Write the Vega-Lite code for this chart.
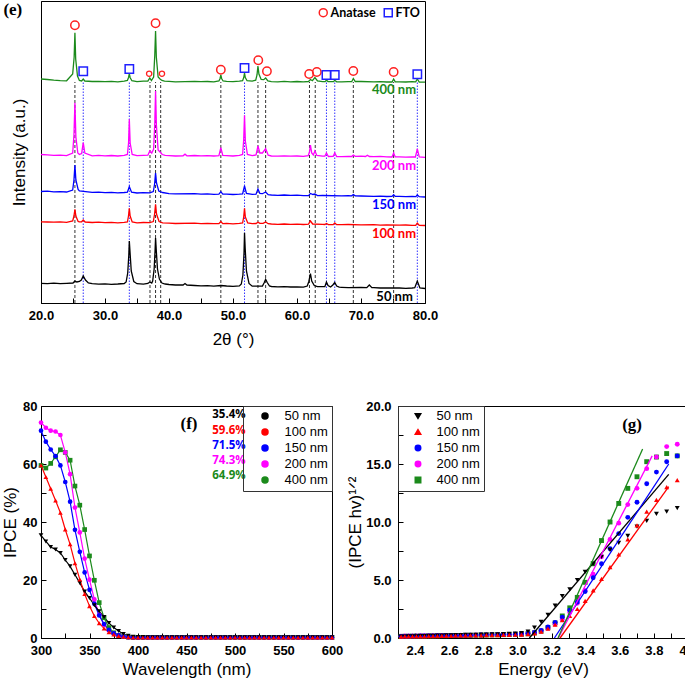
{
"$schema":"https://vega.github.io/schema/vega-lite/v6.json",
"padding":{"left":1,"top":0,"right":0,"bottom":0},
"background":"white",
"config":{
 "font":"Liberation Sans",
 "view":{"stroke":"#000000","strokeWidth":1},
 "axis":{"domainColor":"#000000","tickColor":"#000000","labelFont":"Liberation Sans","labelFontWeight":"bold","labelFontSize":13,"labelColor":"#000000","titleFont":"Liberation Sans","titleFontWeight":"normal","titleFontSize":17,"titleColor":"#000000","grid":false,"tickSize":-5,"labelFlush":false,"labelOverlap":false},
 "legend":{"labelColor":"#000000"}
},
"datasets":{
"ana":[{"t":25.3},{"t":37.03},{"t":37.9},{"t":38.7},{"t":48.1},{"t":53.9},{"t":55.1},{"t":61.95},{"t":62.85},{"t":68.8},{"t":75.1}],
"fto":[{"t":26.6},{"t":33.8},{"t":51.8},{"t":64.6},{"t":65.9},{"t":78.8}],
"xmk":[{"type":"Anatase","t":25.3,"I":277.7},{"type":"Anatase","t":37.9,"I":279.7},{"type":"Anatase","t":48.1,"I":233.3},{"type":"Anatase","t":53.95,"I":242.7},{"type":"Anatase","t":55.3,"I":231.7},{"type":"Anatase","t":61.9,"I":229},{"type":"Anatase","t":63.1,"I":231},{"type":"Anatase","t":68.8,"I":232},{"type":"Anatase","t":75.1,"I":231},{"type":"FTO","t":26.6,"I":231.7},{"type":"FTO","t":33.8,"I":234},{"type":"FTO","t":51.8,"I":235},{"type":"FTO","t":64.6,"I":228},{"type":"FTO","t":65.9,"I":228},{"type":"FTO","t":78.8,"I":228.7}],
"xsm":[{"t":36.9,"I":229.3},{"t":38.9,"I":229.3}],
"elab":[{"s":"400 nm","t":78.6,"I":213},{"s":"200 nm","t":78.6,"I":137},{"s":"150 nm","t":78.6,"I":98},{"s":"100 nm","t":78.6,"I":69},{"s":"50 nm","t":78.1,"I":6.3}],
"xrd":[
{"s":"400 nm","t":20,"I":224},{"s":"400 nm","t":21,"I":223.5},{"s":"400 nm","t":22,"I":222.8},{"s":"400 nm","t":23,"I":222.3},{"s":"400 nm","t":24,"I":222.2},{"s":"400 nm","t":24.95,"I":229},{"s":"400 nm","t":25.18,"I":246},{"s":"400 nm","t":25.3,"I":270.3},{"s":"400 nm","t":25.42,"I":244},{"s":"400 nm","t":25.7,"I":227},{"s":"400 nm","t":26,"I":222.5},{"s":"400 nm","t":26.35,"I":222},{"s":"400 nm","t":26.6,"I":224},{"s":"400 nm","t":26.85,"I":222},{"s":"400 nm","t":28,"I":221.5},{"s":"400 nm","t":29,"I":221.7},{"s":"400 nm","t":30,"I":221.3},{"s":"400 nm","t":31,"I":221.6},{"s":"400 nm","t":32,"I":221.2},{"s":"400 nm","t":33,"I":221.8},{"s":"400 nm","t":33.5,"I":222.5},{"s":"400 nm","t":33.68,"I":225.5},{"s":"400 nm","t":33.8,"I":229.3},{"s":"400 nm","t":33.92,"I":225.5},{"s":"400 nm","t":34.2,"I":222.3},{"s":"400 nm","t":35,"I":221.4},{"s":"400 nm","t":36,"I":221.9},{"s":"400 nm","t":36.7,"I":221.8},{"s":"400 nm","t":37.0,"I":225},{"s":"400 nm","t":37.25,"I":222.5},{"s":"400 nm","t":37.6,"I":226},{"s":"400 nm","t":37.78,"I":248},{"s":"400 nm","t":37.9,"I":272},{"s":"400 nm","t":38.02,"I":246},{"s":"400 nm","t":38.3,"I":226},{"s":"400 nm","t":38.6,"I":224},{"s":"400 nm","t":38.9,"I":222.5},{"s":"400 nm","t":39.3,"I":221.8},{"s":"400 nm","t":40,"I":221.6},{"s":"400 nm","t":41,"I":221.2},{"s":"400 nm","t":44,"I":221.7},{"s":"400 nm","t":45,"I":221.3},{"s":"400 nm","t":46,"I":221.5},{"s":"400 nm","t":47,"I":221.2},{"s":"400 nm","t":47.8,"I":222},{"s":"400 nm","t":47.98,"I":224.5},{"s":"400 nm","t":48.1,"I":228},{"s":"400 nm","t":48.22,"I":224.5},{"s":"400 nm","t":48.45,"I":222},{"s":"400 nm","t":49,"I":221.6},{"s":"400 nm","t":50,"I":221.3},{"s":"400 nm","t":51,"I":221.8},{"s":"400 nm","t":51.5,"I":222.3},{"s":"400 nm","t":51.68,"I":225.5},{"s":"400 nm","t":51.8,"I":230},{"s":"400 nm","t":51.92,"I":225.5},{"s":"400 nm","t":52.2,"I":222.3},{"s":"400 nm","t":53,"I":221.9},{"s":"400 nm","t":53.55,"I":222.8},{"s":"400 nm","t":53.75,"I":228},{"s":"400 nm","t":53.9,"I":237},{"s":"400 nm","t":54.05,"I":229},{"s":"400 nm","t":54.4,"I":223.5},{"s":"400 nm","t":54.8,"I":223.3},{"s":"400 nm","t":55.1,"I":225},{"s":"400 nm","t":55.45,"I":222},{"s":"400 nm","t":56,"I":221.4},{"s":"400 nm","t":57,"I":221.2},{"s":"400 nm","t":58,"I":221.6},{"s":"400 nm","t":59,"I":221.2},{"s":"400 nm","t":60,"I":221.5},{"s":"400 nm","t":61,"I":221.2},{"s":"400 nm","t":61.8,"I":221.5},{"s":"400 nm","t":62.1,"I":223.5},{"s":"400 nm","t":62.4,"I":222.3},{"s":"400 nm","t":62.8,"I":225.5},{"s":"400 nm","t":63.2,"I":222},{"s":"400 nm","t":64,"I":221.4},{"s":"400 nm","t":64.4,"I":221.3},{"s":"400 nm","t":64.6,"I":222.8},{"s":"400 nm","t":64.85,"I":221.4},{"s":"400 nm","t":65.7,"I":221.3},{"s":"400 nm","t":65.9,"I":222.7},{"s":"400 nm","t":66.2,"I":221.2},{"s":"400 nm","t":67,"I":221.1},{"s":"400 nm","t":68,"I":221.4},{"s":"400 nm","t":68.55,"I":221.3},{"s":"400 nm","t":68.8,"I":224.5},{"s":"400 nm","t":69.1,"I":221.5},{"s":"400 nm","t":70,"I":221.5},{"s":"400 nm","t":72,"I":221.1},{"s":"400 nm","t":73,"I":221.4},{"s":"400 nm","t":74,"I":221.0},{"s":"400 nm","t":74.85,"I":221},{"s":"400 nm","t":75.1,"I":224},{"s":"400 nm","t":75.35,"I":221.2},{"s":"400 nm","t":76,"I":221.2},{"s":"400 nm","t":77,"I":221.0},{"s":"400 nm","t":78,"I":221.3},{"s":"400 nm","t":78.55,"I":221.1},{"s":"400 nm","t":78.8,"I":224},{"s":"400 nm","t":79.1,"I":221},{"s":"400 nm","t":80,"I":220.8},
{"s":"200 nm","t":20,"I":148.5},{"s":"200 nm","t":21,"I":148.2},{"s":"200 nm","t":22,"I":147.6},{"s":"200 nm","t":23,"I":147.9},{"s":"200 nm","t":24,"I":147.4},{"s":"200 nm","t":24.95,"I":150},{"s":"200 nm","t":25.15,"I":168},{"s":"200 nm","t":25.3,"I":200.3},{"s":"200 nm","t":25.45,"I":166},{"s":"200 nm","t":25.75,"I":150},{"s":"200 nm","t":26,"I":148.6},{"s":"200 nm","t":26.35,"I":149.5},{"s":"200 nm","t":26.6,"I":160.3},{"s":"200 nm","t":26.85,"I":150},{"s":"200 nm","t":28,"I":147.2},{"s":"200 nm","t":29,"I":147.6},{"s":"200 nm","t":30,"I":147.1},{"s":"200 nm","t":31,"I":147.5},{"s":"200 nm","t":32,"I":147.0},{"s":"200 nm","t":33,"I":147.6},{"s":"200 nm","t":33.5,"I":148.5},{"s":"200 nm","t":33.68,"I":160},{"s":"200 nm","t":33.8,"I":183.7},{"s":"200 nm","t":33.93,"I":160},{"s":"200 nm","t":34.25,"I":148.5},{"s":"200 nm","t":35,"I":147.3},{"s":"200 nm","t":36,"I":147.7},{"s":"200 nm","t":36.7,"I":147.8},{"s":"200 nm","t":37.0,"I":152},{"s":"200 nm","t":37.3,"I":150},{"s":"200 nm","t":37.6,"I":154},{"s":"200 nm","t":37.78,"I":180},{"s":"200 nm","t":37.9,"I":212},{"s":"200 nm","t":38.03,"I":178},{"s":"200 nm","t":38.3,"I":153},{"s":"200 nm","t":38.6,"I":151},{"s":"200 nm","t":38.95,"I":148.5},{"s":"200 nm","t":39.4,"I":147.6},{"s":"200 nm","t":40,"I":147.4},{"s":"200 nm","t":41,"I":147.0},{"s":"200 nm","t":42.2,"I":147.2},{"s":"200 nm","t":42.5,"I":148.8},{"s":"200 nm","t":42.8,"I":147.2},{"s":"200 nm","t":44,"I":147.5},{"s":"200 nm","t":45,"I":147.1},{"s":"200 nm","t":46,"I":147.4},{"s":"200 nm","t":47,"I":147.0},{"s":"200 nm","t":47.8,"I":147.3},{"s":"200 nm","t":48.1,"I":155.3},{"s":"200 nm","t":48.4,"I":147.5},{"s":"200 nm","t":49,"I":147.3},{"s":"200 nm","t":50,"I":147.0},{"s":"200 nm","t":51,"I":147.6},{"s":"200 nm","t":51.5,"I":148.5},{"s":"200 nm","t":51.67,"I":163},{"s":"200 nm","t":51.8,"I":187.7},{"s":"200 nm","t":51.93,"I":162},{"s":"200 nm","t":52.25,"I":148.5},{"s":"200 nm","t":53,"I":147.4},{"s":"200 nm","t":53.6,"I":148},{"s":"200 nm","t":53.9,"I":157},{"s":"200 nm","t":54.2,"I":150},{"s":"200 nm","t":54.6,"I":150},{"s":"200 nm","t":55.1,"I":154.3},{"s":"200 nm","t":55.5,"I":147.8},{"s":"200 nm","t":56,"I":147.0},{"s":"200 nm","t":57,"I":146.8},{"s":"200 nm","t":58,"I":147.2},{"s":"200 nm","t":59,"I":146.8},{"s":"200 nm","t":60,"I":147.0},{"s":"200 nm","t":61,"I":146.7},{"s":"200 nm","t":61.75,"I":147.3},{"s":"200 nm","t":61.95,"I":151},{"s":"200 nm","t":62.1,"I":158},{"s":"200 nm","t":62.3,"I":150},{"s":"200 nm","t":62.55,"I":148},{"s":"200 nm","t":62.8,"I":152},{"s":"200 nm","t":63.1,"I":147.5},{"s":"200 nm","t":64,"I":146.8},{"s":"200 nm","t":64.35,"I":146.8},{"s":"200 nm","t":64.6,"I":150},{"s":"200 nm","t":64.9,"I":146.5},{"s":"200 nm","t":65.65,"I":146.6},{"s":"200 nm","t":65.9,"I":150},{"s":"200 nm","t":66.2,"I":146.4},{"s":"200 nm","t":67,"I":146.4},{"s":"200 nm","t":68,"I":146.7},{"s":"200 nm","t":68.55,"I":146.5},{"s":"200 nm","t":68.8,"I":148},{"s":"200 nm","t":69.1,"I":146.6},{"s":"200 nm","t":70,"I":146.8},{"s":"200 nm","t":70.7,"I":146.5},{"s":"200 nm","t":71.0,"I":147.8},{"s":"200 nm","t":71.3,"I":146.5},{"s":"200 nm","t":72,"I":146.3},{"s":"200 nm","t":73,"I":146.6},{"s":"200 nm","t":74,"I":146.2},{"s":"200 nm","t":74.85,"I":146},{"s":"200 nm","t":75.1,"I":150},{"s":"200 nm","t":75.35,"I":146.1},{"s":"200 nm","t":76,"I":146.2},{"s":"200 nm","t":77,"I":145.9},{"s":"200 nm","t":78,"I":146.2},{"s":"200 nm","t":78.5,"I":146},{"s":"200 nm","t":78.8,"I":154},{"s":"200 nm","t":79.1,"I":146},{"s":"200 nm","t":80,"I":145.6},
{"s":"150 nm","t":20,"I":111.5},{"s":"150 nm","t":21,"I":111.8},{"s":"150 nm","t":22,"I":111.2},{"s":"150 nm","t":23,"I":111.4},{"s":"150 nm","t":24,"I":111.0},{"s":"150 nm","t":24.95,"I":113},{"s":"150 nm","t":25.15,"I":123},{"s":"150 nm","t":25.3,"I":138},{"s":"150 nm","t":25.45,"I":123},{"s":"150 nm","t":25.8,"I":113.5},{"s":"150 nm","t":26,"I":112},{"s":"150 nm","t":28,"I":110.6},{"s":"150 nm","t":29,"I":110.8},{"s":"150 nm","t":30,"I":110.3},{"s":"150 nm","t":31,"I":110.6},{"s":"150 nm","t":32,"I":110.1},{"s":"150 nm","t":33,"I":110.5},{"s":"150 nm","t":33.5,"I":110.8},{"s":"150 nm","t":33.8,"I":116.3},{"s":"150 nm","t":34.15,"I":110.8},{"s":"150 nm","t":35,"I":110.0},{"s":"150 nm","t":36,"I":110.3},{"s":"150 nm","t":37,"I":110.2},{"s":"150 nm","t":37.55,"I":111.5},{"s":"150 nm","t":37.75,"I":119},{"s":"150 nm","t":37.9,"I":130},{"s":"150 nm","t":38.05,"I":120},{"s":"150 nm","t":38.4,"I":112},{"s":"150 nm","t":39,"I":110.5},{"s":"150 nm","t":40,"I":109.4},{"s":"150 nm","t":41,"I":109.1},{"s":"150 nm","t":44,"I":109.3},{"s":"150 nm","t":45,"I":108.8},{"s":"150 nm","t":46,"I":109.1},{"s":"150 nm","t":47,"I":108.7},{"s":"150 nm","t":47.8,"I":108.9},{"s":"150 nm","t":48.1,"I":111.3},{"s":"150 nm","t":48.4,"I":108.9},{"s":"150 nm","t":49,"I":108.9},{"s":"150 nm","t":50,"I":108.5},{"s":"150 nm","t":51,"I":108.9},{"s":"150 nm","t":51.5,"I":109.2},{"s":"150 nm","t":51.8,"I":117},{"s":"150 nm","t":52.1,"I":109.5},{"s":"150 nm","t":53,"I":108.6},{"s":"150 nm","t":53.6,"I":108.8},{"s":"150 nm","t":53.9,"I":114},{"s":"150 nm","t":54.2,"I":109.5},{"s":"150 nm","t":54.6,"I":109.3},{"s":"150 nm","t":55.1,"I":111},{"s":"150 nm","t":55.5,"I":108.3},{"s":"150 nm","t":56,"I":108.0},{"s":"150 nm","t":57,"I":107.7},{"s":"150 nm","t":58,"I":108.0},{"s":"150 nm","t":59,"I":107.6},{"s":"150 nm","t":60,"I":107.8},{"s":"150 nm","t":61,"I":107.4},{"s":"150 nm","t":61.8,"I":107.4},{"s":"150 nm","t":62.1,"I":109.5},{"s":"150 nm","t":62.5,"I":108.5},{"s":"150 nm","t":62.8,"I":109},{"s":"150 nm","t":63.2,"I":107.4},{"s":"150 nm","t":64,"I":107.5},{"s":"150 nm","t":67,"I":107.2},{"s":"150 nm","t":68,"I":107.4},{"s":"150 nm","t":68.55,"I":107.2},{"s":"150 nm","t":68.8,"I":108.5},{"s":"150 nm","t":69.1,"I":107.1},{"s":"150 nm","t":70,"I":107.0},{"s":"150 nm","t":72,"I":106.7},{"s":"150 nm","t":73,"I":106.9},{"s":"150 nm","t":74,"I":106.5},{"s":"150 nm","t":74.85,"I":106.6},{"s":"150 nm","t":75.1,"I":108.3},{"s":"150 nm","t":75.35,"I":106.6},{"s":"150 nm","t":76,"I":106.7},{"s":"150 nm","t":77,"I":106.3},{"s":"150 nm","t":78,"I":106.5},{"s":"150 nm","t":78.55,"I":106.4},{"s":"150 nm","t":78.8,"I":108},{"s":"150 nm","t":79.1,"I":106.3},{"s":"150 nm","t":80,"I":106.0},
{"s":"100 nm","t":20,"I":81.2},{"s":"100 nm","t":21,"I":81.0},{"s":"100 nm","t":22,"I":80.8},{"s":"100 nm","t":23,"I":81.1},{"s":"100 nm","t":24,"I":80.7},{"s":"100 nm","t":24.95,"I":82},{"s":"100 nm","t":25.15,"I":87},{"s":"100 nm","t":25.3,"I":93.7},{"s":"100 nm","t":25.45,"I":87},{"s":"100 nm","t":25.8,"I":81.5},{"s":"100 nm","t":26,"I":81.2},{"s":"100 nm","t":26.35,"I":81.2},{"s":"100 nm","t":26.6,"I":83},{"s":"100 nm","t":26.9,"I":81},{"s":"100 nm","t":28,"I":80.5},{"s":"100 nm","t":29,"I":80.8},{"s":"100 nm","t":30,"I":80.3},{"s":"100 nm","t":31,"I":80.6},{"s":"100 nm","t":32,"I":80.2},{"s":"100 nm","t":33,"I":80.6},{"s":"100 nm","t":33.5,"I":81},{"s":"100 nm","t":33.67,"I":87},{"s":"100 nm","t":33.8,"I":94.7},{"s":"100 nm","t":33.93,"I":87},{"s":"100 nm","t":34.25,"I":81},{"s":"100 nm","t":35,"I":80.2},{"s":"100 nm","t":36,"I":80.5},{"s":"100 nm","t":37,"I":80.4},{"s":"100 nm","t":37.55,"I":81.5},{"s":"100 nm","t":37.75,"I":89},{"s":"100 nm","t":37.9,"I":98.7},{"s":"100 nm","t":38.05,"I":89},{"s":"100 nm","t":38.45,"I":81.5},{"s":"100 nm","t":39,"I":80.1},{"s":"100 nm","t":40,"I":79.8},{"s":"100 nm","t":41,"I":79.5},{"s":"100 nm","t":44,"I":79.9},{"s":"100 nm","t":45,"I":79.4},{"s":"100 nm","t":46,"I":79.7},{"s":"100 nm","t":47,"I":79.3},{"s":"100 nm","t":47.8,"I":79.4},{"s":"100 nm","t":48.1,"I":81.5},{"s":"100 nm","t":48.4,"I":79.4},{"s":"100 nm","t":49,"I":79.6},{"s":"100 nm","t":50,"I":79.2},{"s":"100 nm","t":51,"I":79.6},{"s":"100 nm","t":51.5,"I":80},{"s":"100 nm","t":51.67,"I":86},{"s":"100 nm","t":51.8,"I":94.7},{"s":"100 nm","t":51.93,"I":86},{"s":"100 nm","t":52.3,"I":80},{"s":"100 nm","t":53,"I":79.4},{"s":"100 nm","t":53.6,"I":79.5},{"s":"100 nm","t":53.9,"I":80.8},{"s":"100 nm","t":54.2,"I":79.6},{"s":"100 nm","t":54.7,"I":79.6},{"s":"100 nm","t":55.1,"I":81},{"s":"100 nm","t":55.5,"I":79.3},{"s":"100 nm","t":56,"I":79.0},{"s":"100 nm","t":57,"I":78.7},{"s":"100 nm","t":58,"I":79.0},{"s":"100 nm","t":59,"I":78.6},{"s":"100 nm","t":60,"I":78.9},{"s":"100 nm","t":61,"I":78.5},{"s":"100 nm","t":61.8,"I":78.8},{"s":"100 nm","t":62.1,"I":82},{"s":"100 nm","t":62.45,"I":79},{"s":"100 nm","t":64,"I":78.6},{"s":"100 nm","t":64.35,"I":78.5},{"s":"100 nm","t":64.6,"I":79.5},{"s":"100 nm","t":64.9,"I":78.4},{"s":"100 nm","t":65.65,"I":78.4},{"s":"100 nm","t":65.9,"I":80},{"s":"100 nm","t":66.2,"I":78.3},{"s":"100 nm","t":67,"I":78.3},{"s":"100 nm","t":68,"I":78.5},{"s":"100 nm","t":70,"I":78.1},{"s":"100 nm","t":72,"I":78.3},{"s":"100 nm","t":73,"I":77.9},{"s":"100 nm","t":74,"I":78.2},{"s":"100 nm","t":76,"I":77.8},{"s":"100 nm","t":77,"I":78.0},{"s":"100 nm","t":78,"I":77.6},{"s":"100 nm","t":78.55,"I":77.7},{"s":"100 nm","t":78.8,"I":80},{"s":"100 nm","t":79.1,"I":77.6},{"s":"100 nm","t":80,"I":77.5},
{"s":"50 nm","t":20,"I":19.7},{"s":"50 nm","t":21,"I":19.4},{"s":"50 nm","t":22,"I":19.8},{"s":"50 nm","t":23,"I":19.3},{"s":"50 nm","t":24,"I":19.6},{"s":"50 nm","t":25.0,"I":20},{"s":"50 nm","t":25.3,"I":22},{"s":"50 nm","t":25.6,"I":21},{"s":"50 nm","t":26,"I":21.5},{"s":"50 nm","t":26.3,"I":23},{"s":"50 nm","t":26.6,"I":27},{"s":"50 nm","t":26.95,"I":23},{"s":"50 nm","t":27.4,"I":20},{"s":"50 nm","t":28,"I":19.3},{"s":"50 nm","t":29,"I":18.9},{"s":"50 nm","t":30,"I":19.2},{"s":"50 nm","t":31,"I":18.7},{"s":"50 nm","t":32,"I":19.0},{"s":"50 nm","t":33,"I":19.5},{"s":"50 nm","t":33.3,"I":21},{"s":"50 nm","t":33.55,"I":30},{"s":"50 nm","t":33.72,"I":48},{"s":"50 nm","t":33.8,"I":62},{"s":"50 nm","t":33.9,"I":52},{"s":"50 nm","t":34.1,"I":32},{"s":"50 nm","t":34.5,"I":21.5},{"s":"50 nm","t":35,"I":19.3},{"s":"50 nm","t":36,"I":18.8},{"s":"50 nm","t":36.7,"I":19.5},{"s":"50 nm","t":37.0,"I":21},{"s":"50 nm","t":37.3,"I":20},{"s":"50 nm","t":37.45,"I":22},{"s":"50 nm","t":37.68,"I":34},{"s":"50 nm","t":37.82,"I":52},{"s":"50 nm","t":37.9,"I":65},{"s":"50 nm","t":38.0,"I":54},{"s":"50 nm","t":38.2,"I":34},{"s":"50 nm","t":38.5,"I":24},{"s":"50 nm","t":38.9,"I":20},{"s":"50 nm","t":39.4,"I":19},{"s":"50 nm","t":40,"I":18.5},{"s":"50 nm","t":41,"I":18.0},{"s":"50 nm","t":42.2,"I":18},{"s":"50 nm","t":42.5,"I":19.5},{"s":"50 nm","t":42.8,"I":18},{"s":"50 nm","t":44,"I":17.5},{"s":"50 nm","t":45,"I":17.1},{"s":"50 nm","t":46,"I":17.3},{"s":"50 nm","t":47,"I":16.9},{"s":"50 nm","t":48.1,"I":17.5},{"s":"50 nm","t":49,"I":17.0},{"s":"50 nm","t":50,"I":16.6},{"s":"50 nm","t":51,"I":17.1},{"s":"50 nm","t":51.3,"I":19},{"s":"50 nm","t":51.55,"I":28},{"s":"50 nm","t":51.72,"I":50},{"s":"50 nm","t":51.8,"I":70.3},{"s":"50 nm","t":51.9,"I":55},{"s":"50 nm","t":52.1,"I":32},{"s":"50 nm","t":52.5,"I":19.5},{"s":"50 nm","t":53,"I":16.8},{"s":"50 nm","t":54.6,"I":17},{"s":"50 nm","t":54.85,"I":20},{"s":"50 nm","t":55.1,"I":23.7},{"s":"50 nm","t":55.35,"I":20.5},{"s":"50 nm","t":55.7,"I":17},{"s":"50 nm","t":56,"I":16.5},{"s":"50 nm","t":57,"I":16.1},{"s":"50 nm","t":58,"I":16.4},{"s":"50 nm","t":59,"I":16.0},{"s":"50 nm","t":60,"I":16.2},{"s":"50 nm","t":61,"I":15.9},{"s":"50 nm","t":61.6,"I":17},{"s":"50 nm","t":61.85,"I":21.5},{"s":"50 nm","t":62.1,"I":29.3},{"s":"50 nm","t":62.3,"I":22},{"s":"50 nm","t":62.7,"I":17.5},{"s":"50 nm","t":63.2,"I":16.3},{"s":"50 nm","t":64,"I":16.3},{"s":"50 nm","t":64.35,"I":16.4},{"s":"50 nm","t":64.6,"I":21},{"s":"50 nm","t":64.85,"I":17.5},{"s":"50 nm","t":65.25,"I":16},{"s":"50 nm","t":65.6,"I":18},{"s":"50 nm","t":65.9,"I":20.5},{"s":"50 nm","t":66.2,"I":17},{"s":"50 nm","t":66.6,"I":15.8},{"s":"50 nm","t":67,"I":15.7},{"s":"50 nm","t":68,"I":15.4},{"s":"50 nm","t":70,"I":15.5},{"s":"50 nm","t":70.9,"I":15.4},{"s":"50 nm","t":71.3,"I":18},{"s":"50 nm","t":71.7,"I":15.4},{"s":"50 nm","t":72,"I":15.3},{"s":"50 nm","t":73,"I":15.0},{"s":"50 nm","t":74,"I":15.2},{"s":"50 nm","t":76,"I":15.0},{"s":"50 nm","t":77,"I":14.7},{"s":"50 nm","t":78,"I":15.0},{"s":"50 nm","t":78.4,"I":15.3},{"s":"50 nm","t":78.8,"I":22},{"s":"50 nm","t":79.2,"I":15},{"s":"50 nm","t":80,"I":14.5}
],
"ipce":[
{"s":"400 nm","w":300,"v":59.5},{"s":"400 nm","w":305,"v":58.6},{"s":"400 nm","w":310,"v":60.2},{"s":"400 nm","w":315,"v":62.5},{"s":"400 nm","w":320,"v":64.9},{"s":"400 nm","w":325,"v":64.0},{"s":"400 nm","w":330,"v":61.3},{"s":"400 nm","w":335,"v":52.4},{"s":"400 nm","w":340,"v":45.8},{"s":"400 nm","w":345,"v":37.4},{"s":"400 nm","w":350,"v":28.3},{"s":"400 nm","w":355,"v":19.9},{"s":"400 nm","w":360,"v":12.2},{"s":"400 nm","w":365,"v":7.0},{"s":"400 nm","w":370,"v":3.6},{"s":"400 nm","w":375,"v":1.8},{"s":"400 nm","w":380,"v":0.9},{"s":"400 nm","w":385,"v":0.5},{"s":"400 nm","w":390,"v":0.3},{"s":"400 nm","w":395,"v":0.2},
{"s":"400 nm","w":400,"v":0.2},{"s":"400 nm","w":405,"v":0.2},{"s":"400 nm","w":410,"v":0.2},{"s":"400 nm","w":415,"v":0.2},{"s":"400 nm","w":420,"v":0.2},{"s":"400 nm","w":425,"v":0.2},{"s":"400 nm","w":430,"v":0.2},{"s":"400 nm","w":435,"v":0.2},{"s":"400 nm","w":440,"v":0.2},{"s":"400 nm","w":445,"v":0.2},{"s":"400 nm","w":450,"v":0.2},{"s":"400 nm","w":455,"v":0.2},{"s":"400 nm","w":460,"v":0.2},{"s":"400 nm","w":465,"v":0.2},{"s":"400 nm","w":470,"v":0.2},{"s":"400 nm","w":475,"v":0.2},{"s":"400 nm","w":480,"v":0.2},{"s":"400 nm","w":485,"v":0.2},{"s":"400 nm","w":490,"v":0.2},{"s":"400 nm","w":495,"v":0.2},{"s":"400 nm","w":500,"v":0.2},{"s":"400 nm","w":505,"v":0.2},{"s":"400 nm","w":510,"v":0.2},{"s":"400 nm","w":515,"v":0.2},{"s":"400 nm","w":520,"v":0.2},{"s":"400 nm","w":525,"v":0.2},{"s":"400 nm","w":530,"v":0.2},{"s":"400 nm","w":535,"v":0.2},{"s":"400 nm","w":540,"v":0.2},{"s":"400 nm","w":545,"v":0.2},{"s":"400 nm","w":550,"v":0.2},{"s":"400 nm","w":555,"v":0.2},{"s":"400 nm","w":560,"v":0.2},{"s":"400 nm","w":565,"v":0.2},{"s":"400 nm","w":570,"v":0.2},{"s":"400 nm","w":575,"v":0.2},{"s":"400 nm","w":580,"v":0.2},{"s":"400 nm","w":585,"v":0.2},{"s":"400 nm","w":590,"v":0.2},{"s":"400 nm","w":595,"v":0.2},{"s":"400 nm","w":600,"v":0.2},
{"s":"200 nm","w":300,"v":74.3},{"s":"200 nm","w":305,"v":72.5},{"s":"200 nm","w":310,"v":71.5},{"s":"200 nm","w":315,"v":71.2},{"s":"200 nm","w":320,"v":70.0},{"s":"200 nm","w":325,"v":64.0},{"s":"200 nm","w":330,"v":56.5},{"s":"200 nm","w":335,"v":45.0},{"s":"200 nm","w":340,"v":36.4},{"s":"200 nm","w":345,"v":27.4},{"s":"200 nm","w":350,"v":20.1},{"s":"200 nm","w":355,"v":13.3},{"s":"200 nm","w":360,"v":8.0},{"s":"200 nm","w":365,"v":4.6},{"s":"200 nm","w":370,"v":2.6},{"s":"200 nm","w":375,"v":1.4},{"s":"200 nm","w":380,"v":0.8},{"s":"200 nm","w":385,"v":0.45},{"s":"200 nm","w":390,"v":0.3},{"s":"200 nm","w":395,"v":0.2},
{"s":"200 nm","w":400,"v":0.2},{"s":"200 nm","w":405,"v":0.2},{"s":"200 nm","w":410,"v":0.2},{"s":"200 nm","w":415,"v":0.2},{"s":"200 nm","w":420,"v":0.2},{"s":"200 nm","w":425,"v":0.2},{"s":"200 nm","w":430,"v":0.2},{"s":"200 nm","w":435,"v":0.2},{"s":"200 nm","w":440,"v":0.2},{"s":"200 nm","w":445,"v":0.2},{"s":"200 nm","w":450,"v":0.2},{"s":"200 nm","w":455,"v":0.2},{"s":"200 nm","w":460,"v":0.2},{"s":"200 nm","w":465,"v":0.2},{"s":"200 nm","w":470,"v":0.2},{"s":"200 nm","w":475,"v":0.2},{"s":"200 nm","w":480,"v":0.2},{"s":"200 nm","w":485,"v":0.2},{"s":"200 nm","w":490,"v":0.2},{"s":"200 nm","w":495,"v":0.2},{"s":"200 nm","w":500,"v":0.2},{"s":"200 nm","w":505,"v":0.2},{"s":"200 nm","w":510,"v":0.2},{"s":"200 nm","w":515,"v":0.2},{"s":"200 nm","w":520,"v":0.2},{"s":"200 nm","w":525,"v":0.2},{"s":"200 nm","w":530,"v":0.2},{"s":"200 nm","w":535,"v":0.2},{"s":"200 nm","w":540,"v":0.2},{"s":"200 nm","w":545,"v":0.2},{"s":"200 nm","w":550,"v":0.2},{"s":"200 nm","w":555,"v":0.2},{"s":"200 nm","w":560,"v":0.2},{"s":"200 nm","w":565,"v":0.2},{"s":"200 nm","w":570,"v":0.2},{"s":"200 nm","w":575,"v":0.2},{"s":"200 nm","w":580,"v":0.2},{"s":"200 nm","w":585,"v":0.2},{"s":"200 nm","w":590,"v":0.2},{"s":"200 nm","w":595,"v":0.2},{"s":"200 nm","w":600,"v":0.2},
{"s":"150 nm","w":300,"v":71.5},{"s":"150 nm","w":305,"v":67.7},{"s":"150 nm","w":310,"v":65.0},{"s":"150 nm","w":315,"v":62.7},{"s":"150 nm","w":320,"v":59.5},{"s":"150 nm","w":325,"v":53.8},{"s":"150 nm","w":330,"v":47.0},{"s":"150 nm","w":335,"v":37.3},{"s":"150 nm","w":340,"v":29.7},{"s":"150 nm","w":345,"v":22.6},{"s":"150 nm","w":350,"v":16.6},{"s":"150 nm","w":355,"v":11.8},{"s":"150 nm","w":360,"v":7.8},{"s":"150 nm","w":365,"v":4.8},{"s":"150 nm","w":370,"v":2.8},{"s":"150 nm","w":375,"v":1.6},{"s":"150 nm","w":380,"v":0.9},{"s":"150 nm","w":385,"v":0.5},{"s":"150 nm","w":390,"v":0.3},{"s":"150 nm","w":395,"v":0.2},
{"s":"150 nm","w":400,"v":0.2},{"s":"150 nm","w":405,"v":0.2},{"s":"150 nm","w":410,"v":0.2},{"s":"150 nm","w":415,"v":0.2},{"s":"150 nm","w":420,"v":0.2},{"s":"150 nm","w":425,"v":0.2},{"s":"150 nm","w":430,"v":0.2},{"s":"150 nm","w":435,"v":0.2},{"s":"150 nm","w":440,"v":0.2},{"s":"150 nm","w":445,"v":0.2},{"s":"150 nm","w":450,"v":0.2},{"s":"150 nm","w":455,"v":0.2},{"s":"150 nm","w":460,"v":0.2},{"s":"150 nm","w":465,"v":0.2},{"s":"150 nm","w":470,"v":0.2},{"s":"150 nm","w":475,"v":0.2},{"s":"150 nm","w":480,"v":0.2},{"s":"150 nm","w":485,"v":0.2},{"s":"150 nm","w":490,"v":0.2},{"s":"150 nm","w":495,"v":0.2},{"s":"150 nm","w":500,"v":0.2},{"s":"150 nm","w":505,"v":0.2},{"s":"150 nm","w":510,"v":0.2},{"s":"150 nm","w":515,"v":0.2},{"s":"150 nm","w":520,"v":0.2},{"s":"150 nm","w":525,"v":0.2},{"s":"150 nm","w":530,"v":0.2},{"s":"150 nm","w":535,"v":0.2},{"s":"150 nm","w":540,"v":0.2},{"s":"150 nm","w":545,"v":0.2},{"s":"150 nm","w":550,"v":0.2},{"s":"150 nm","w":555,"v":0.2},{"s":"150 nm","w":560,"v":0.2},{"s":"150 nm","w":565,"v":0.2},{"s":"150 nm","w":570,"v":0.2},{"s":"150 nm","w":575,"v":0.2},{"s":"150 nm","w":580,"v":0.2},{"s":"150 nm","w":585,"v":0.2},{"s":"150 nm","w":590,"v":0.2},{"s":"150 nm","w":595,"v":0.2},{"s":"150 nm","w":600,"v":0.2},
{"s":"50 nm","w":300,"v":35.4},{"s":"50 nm","w":305,"v":33.3},{"s":"50 nm","w":310,"v":31.4},{"s":"50 nm","w":315,"v":30.5},{"s":"50 nm","w":320,"v":29.3},{"s":"50 nm","w":325,"v":26.9},{"s":"50 nm","w":330,"v":24.7},{"s":"50 nm","w":335,"v":21.8},{"s":"50 nm","w":340,"v":19.0},{"s":"50 nm","w":345,"v":16.0},{"s":"50 nm","w":350,"v":13.8},{"s":"50 nm","w":355,"v":11.3},{"s":"50 nm","w":360,"v":9.2},{"s":"50 nm","w":365,"v":7.2},{"s":"50 nm","w":370,"v":5.2},{"s":"50 nm","w":375,"v":3.6},{"s":"50 nm","w":380,"v":2.4},{"s":"50 nm","w":385,"v":1.4},{"s":"50 nm","w":390,"v":0.8},{"s":"50 nm","w":395,"v":0.45},
{"s":"50 nm","w":400,"v":0.3},{"s":"50 nm","w":405,"v":0.3},{"s":"50 nm","w":410,"v":0.25},{"s":"50 nm","w":415,"v":0.25},{"s":"50 nm","w":420,"v":0.25},{"s":"50 nm","w":425,"v":0.25},{"s":"50 nm","w":430,"v":0.25},{"s":"50 nm","w":435,"v":0.25},{"s":"50 nm","w":440,"v":0.25},{"s":"50 nm","w":445,"v":0.25},{"s":"50 nm","w":450,"v":0.25},{"s":"50 nm","w":455,"v":0.25},{"s":"50 nm","w":460,"v":0.25},{"s":"50 nm","w":465,"v":0.25},{"s":"50 nm","w":470,"v":0.25},{"s":"50 nm","w":475,"v":0.25},{"s":"50 nm","w":480,"v":0.25},{"s":"50 nm","w":485,"v":0.25},{"s":"50 nm","w":490,"v":0.25},{"s":"50 nm","w":495,"v":0.25},{"s":"50 nm","w":500,"v":0.25},{"s":"50 nm","w":505,"v":0.25},{"s":"50 nm","w":510,"v":0.25},{"s":"50 nm","w":515,"v":0.25},{"s":"50 nm","w":520,"v":0.25},{"s":"50 nm","w":525,"v":0.25},{"s":"50 nm","w":530,"v":0.25},{"s":"50 nm","w":535,"v":0.25},{"s":"50 nm","w":540,"v":0.25},{"s":"50 nm","w":545,"v":0.25},{"s":"50 nm","w":550,"v":0.25},{"s":"50 nm","w":555,"v":0.25},{"s":"50 nm","w":560,"v":0.25},{"s":"50 nm","w":565,"v":0.25},{"s":"50 nm","w":570,"v":0.25},{"s":"50 nm","w":575,"v":0.25},{"s":"50 nm","w":580,"v":0.25},{"s":"50 nm","w":585,"v":0.25},{"s":"50 nm","w":590,"v":0.25},{"s":"50 nm","w":595,"v":0.25},{"s":"50 nm","w":600,"v":0.25},
{"s":"100 nm","w":300,"v":59.6},{"s":"100 nm","w":305,"v":55.5},{"s":"100 nm","w":310,"v":51.5},{"s":"100 nm","w":315,"v":47.4},{"s":"100 nm","w":320,"v":43.2},{"s":"100 nm","w":325,"v":37.4},{"s":"100 nm","w":330,"v":32.3},{"s":"100 nm","w":335,"v":25.8},{"s":"100 nm","w":340,"v":20.2},{"s":"100 nm","w":345,"v":15.2},{"s":"100 nm","w":350,"v":11.0},{"s":"100 nm","w":355,"v":7.6},{"s":"100 nm","w":360,"v":5.1},{"s":"100 nm","w":365,"v":3.3},{"s":"100 nm","w":370,"v":2.0},{"s":"100 nm","w":375,"v":1.2},{"s":"100 nm","w":380,"v":0.7},{"s":"100 nm","w":385,"v":0.4},{"s":"100 nm","w":390,"v":0.25},{"s":"100 nm","w":395,"v":0.2},
{"s":"100 nm","w":400,"v":0.2},{"s":"100 nm","w":405,"v":0.2},{"s":"100 nm","w":410,"v":0.2},{"s":"100 nm","w":415,"v":0.2},{"s":"100 nm","w":420,"v":0.2},{"s":"100 nm","w":425,"v":0.2},{"s":"100 nm","w":430,"v":0.2},{"s":"100 nm","w":435,"v":0.2},{"s":"100 nm","w":440,"v":0.2},{"s":"100 nm","w":445,"v":0.2},{"s":"100 nm","w":450,"v":0.2},{"s":"100 nm","w":455,"v":0.2},{"s":"100 nm","w":460,"v":0.2},{"s":"100 nm","w":465,"v":0.2},{"s":"100 nm","w":470,"v":0.2},{"s":"100 nm","w":475,"v":0.2},{"s":"100 nm","w":480,"v":0.2},{"s":"100 nm","w":485,"v":0.2},{"s":"100 nm","w":490,"v":0.2},{"s":"100 nm","w":495,"v":0.2},{"s":"100 nm","w":500,"v":0.2},{"s":"100 nm","w":505,"v":0.2},{"s":"100 nm","w":510,"v":0.2},{"s":"100 nm","w":515,"v":0.2},{"s":"100 nm","w":520,"v":0.2},{"s":"100 nm","w":525,"v":0.2},{"s":"100 nm","w":530,"v":0.2},{"s":"100 nm","w":535,"v":0.2},{"s":"100 nm","w":540,"v":0.2},{"s":"100 nm","w":545,"v":0.2},{"s":"100 nm","w":550,"v":0.2},{"s":"100 nm","w":555,"v":0.2},{"s":"100 nm","w":560,"v":0.2},{"s":"100 nm","w":565,"v":0.2},{"s":"100 nm","w":570,"v":0.2},{"s":"100 nm","w":575,"v":0.2},{"s":"100 nm","w":580,"v":0.2},{"s":"100 nm","w":585,"v":0.2},{"s":"100 nm","w":590,"v":0.2},{"s":"100 nm","w":595,"v":0.2},{"s":"100 nm","w":600,"v":0.2}
],
"pct":[{"s":"50 nm","p":"35.4%","w":511,"v":76.8},{"s":"100 nm","p":"59.6%","w":511,"v":71.5},{"s":"150 nm","p":"71.5%","w":511,"v":66.2},{"s":"200 nm","p":"74.3%","w":511,"v":60.9},{"s":"400 nm","p":"64.9%","w":511,"v":55.8}],
"tauc":[
{"s":"400 nm","E":4.000,"v":15.5},{"s":"400 nm","E":3.937,"v":15.7},{"s":"400 nm","E":3.875,"v":15.9},{"s":"400 nm","E":3.815,"v":15.6},{"s":"400 nm","E":3.758,"v":15.2},{"s":"400 nm","E":3.701,"v":13.9},{"s":"400 nm","E":3.647,"v":12.9},{"s":"400 nm","E":3.594,"v":11.6},{"s":"400 nm","E":3.543,"v":10.0},{"s":"400 nm","E":3.493,"v":8.4},{"s":"400 nm","E":3.444,"v":6.4},{"s":"400 nm","E":3.397,"v":4.8},{"s":"400 nm","E":3.351,"v":3.5},{"s":"400 nm","E":3.307,"v":2.6},{"s":"400 nm","E":3.263,"v":1.9},{"s":"400 nm","E":3.221,"v":1.3},{"s":"400 nm","E":3.179,"v":0.9},{"s":"400 nm","E":3.139,"v":0.6},{"s":"400 nm","E":3.100,"v":0.45},{"s":"400 nm","E":3.062,"v":0.37},{"s":"400 nm","E":3.024,"v":0.33},{"s":"400 nm","E":2.988,"v":0.31},{"s":"400 nm","E":2.952,"v":0.3},{"s":"400 nm","E":2.918,"v":0.29},{"s":"400 nm","E":2.884,"v":0.28},{"s":"400 nm","E":2.851,"v":0.27},{"s":"400 nm","E":2.818,"v":0.26},{"s":"400 nm","E":2.787,"v":0.25},{"s":"400 nm","E":2.756,"v":0.24},{"s":"400 nm","E":2.725,"v":0.23},{"s":"400 nm","E":2.696,"v":0.23},{"s":"400 nm","E":2.667,"v":0.22},{"s":"400 nm","E":2.638,"v":0.21},{"s":"400 nm","E":2.611,"v":0.21},{"s":"400 nm","E":2.583,"v":0.2},{"s":"400 nm","E":2.557,"v":0.2},{"s":"400 nm","E":2.531,"v":0.19},{"s":"400 nm","E":2.505,"v":0.18},{"s":"400 nm","E":2.480,"v":0.18},{"s":"400 nm","E":2.455,"v":0.17},{"s":"400 nm","E":2.431,"v":0.17},{"s":"400 nm","E":2.408,"v":0.16},{"s":"400 nm","E":2.385,"v":0.16},{"s":"400 nm","E":2.362,"v":0.15},{"s":"400 nm","E":2.340,"v":0.15},{"s":"400 nm","E":2.318,"v":0.14},
{"s":"200 nm","E":4.000,"v":16.9},{"s":"200 nm","E":3.937,"v":16.7},{"s":"200 nm","E":3.875,"v":16.5},{"s":"200 nm","E":3.815,"v":15.6},{"s":"200 nm","E":3.758,"v":14.6},{"s":"200 nm","E":3.701,"v":12.9},{"s":"200 nm","E":3.647,"v":11.5},{"s":"200 nm","E":3.594,"v":9.9},{"s":"200 nm","E":3.543,"v":8.5},{"s":"200 nm","E":3.493,"v":7.0},{"s":"200 nm","E":3.444,"v":5.5},{"s":"200 nm","E":3.397,"v":4.1},{"s":"200 nm","E":3.351,"v":3.0},{"s":"200 nm","E":3.307,"v":2.2},{"s":"200 nm","E":3.263,"v":1.6},{"s":"200 nm","E":3.221,"v":1.2},{"s":"200 nm","E":3.179,"v":0.85},{"s":"200 nm","E":3.139,"v":0.6},{"s":"200 nm","E":3.100,"v":0.45},{"s":"200 nm","E":3.062,"v":0.38},{"s":"200 nm","E":3.024,"v":0.35},{"s":"200 nm","E":2.988,"v":0.33},{"s":"200 nm","E":2.952,"v":0.31},{"s":"200 nm","E":2.918,"v":0.3},{"s":"200 nm","E":2.884,"v":0.29},{"s":"200 nm","E":2.851,"v":0.28},{"s":"200 nm","E":2.818,"v":0.27},{"s":"200 nm","E":2.787,"v":0.26},{"s":"200 nm","E":2.756,"v":0.26},{"s":"200 nm","E":2.725,"v":0.25},{"s":"200 nm","E":2.696,"v":0.24},{"s":"200 nm","E":2.667,"v":0.24},{"s":"200 nm","E":2.638,"v":0.23},{"s":"200 nm","E":2.611,"v":0.22},{"s":"200 nm","E":2.583,"v":0.22},{"s":"200 nm","E":2.557,"v":0.21},{"s":"200 nm","E":2.531,"v":0.21},{"s":"200 nm","E":2.505,"v":0.2},{"s":"200 nm","E":2.480,"v":0.2},{"s":"200 nm","E":2.455,"v":0.19},{"s":"200 nm","E":2.431,"v":0.19},{"s":"200 nm","E":2.408,"v":0.18},{"s":"200 nm","E":2.385,"v":0.18},{"s":"200 nm","E":2.362,"v":0.17},{"s":"200 nm","E":2.340,"v":0.17},{"s":"200 nm","E":2.318,"v":0.16},
{"s":"150 nm","E":4.000,"v":16.1},{"s":"150 nm","E":3.937,"v":15.7},{"s":"150 nm","E":3.875,"v":15.2},{"s":"150 nm","E":3.815,"v":14.3},{"s":"150 nm","E":3.758,"v":13.3},{"s":"150 nm","E":3.701,"v":11.7},{"s":"150 nm","E":3.647,"v":10.4},{"s":"150 nm","E":3.594,"v":9.0},{"s":"150 nm","E":3.543,"v":7.7},{"s":"150 nm","E":3.493,"v":6.4},{"s":"150 nm","E":3.444,"v":5.2},{"s":"150 nm","E":3.397,"v":4.0},{"s":"150 nm","E":3.351,"v":3.1},{"s":"150 nm","E":3.307,"v":2.4},{"s":"150 nm","E":3.263,"v":1.8},{"s":"150 nm","E":3.221,"v":1.35},{"s":"150 nm","E":3.179,"v":0.95},{"s":"150 nm","E":3.139,"v":0.65},{"s":"150 nm","E":3.100,"v":0.48},{"s":"150 nm","E":3.062,"v":0.4},{"s":"150 nm","E":3.024,"v":0.36},{"s":"150 nm","E":2.988,"v":0.33},{"s":"150 nm","E":2.952,"v":0.31},{"s":"150 nm","E":2.918,"v":0.3},{"s":"150 nm","E":2.884,"v":0.29},{"s":"150 nm","E":2.851,"v":0.28},{"s":"150 nm","E":2.818,"v":0.27},{"s":"150 nm","E":2.787,"v":0.26},{"s":"150 nm","E":2.756,"v":0.25},{"s":"150 nm","E":2.725,"v":0.24},{"s":"150 nm","E":2.696,"v":0.23},{"s":"150 nm","E":2.667,"v":0.22},{"s":"150 nm","E":2.638,"v":0.22},{"s":"150 nm","E":2.611,"v":0.21},{"s":"150 nm","E":2.583,"v":0.2},{"s":"150 nm","E":2.557,"v":0.2},{"s":"150 nm","E":2.531,"v":0.19},{"s":"150 nm","E":2.505,"v":0.18},{"s":"150 nm","E":2.480,"v":0.18},{"s":"150 nm","E":2.455,"v":0.17},{"s":"150 nm","E":2.431,"v":0.17},{"s":"150 nm","E":2.408,"v":0.16},{"s":"150 nm","E":2.385,"v":0.15},{"s":"150 nm","E":2.362,"v":0.15},{"s":"150 nm","E":2.340,"v":0.14},{"s":"150 nm","E":2.318,"v":0.14},
{"s":"50 nm","E":4.000,"v":11.7},{"s":"50 nm","E":3.937,"v":11.2},{"s":"50 nm","E":3.875,"v":10.9},{"s":"50 nm","E":3.815,"v":10.7},{"s":"50 nm","E":3.758,"v":10.1},{"s":"50 nm","E":3.701,"v":9.6},{"s":"50 nm","E":3.647,"v":8.8},{"s":"50 nm","E":3.594,"v":8.2},{"s":"50 nm","E":3.543,"v":7.6},{"s":"50 nm","E":3.493,"v":7.0},{"s":"50 nm","E":3.444,"v":6.4},{"s":"50 nm","E":3.397,"v":5.7},{"s":"50 nm","E":3.351,"v":5.0},{"s":"50 nm","E":3.307,"v":4.2},{"s":"50 nm","E":3.263,"v":3.6},{"s":"50 nm","E":3.221,"v":2.8},{"s":"50 nm","E":3.179,"v":2.0},{"s":"50 nm","E":3.139,"v":1.4},{"s":"50 nm","E":3.100,"v":0.9},{"s":"50 nm","E":3.062,"v":0.55},{"s":"50 nm","E":3.024,"v":0.42},{"s":"50 nm","E":2.988,"v":0.38},{"s":"50 nm","E":2.952,"v":0.35},{"s":"50 nm","E":2.918,"v":0.33},{"s":"50 nm","E":2.884,"v":0.32},{"s":"50 nm","E":2.851,"v":0.31},{"s":"50 nm","E":2.818,"v":0.3},{"s":"50 nm","E":2.787,"v":0.29},{"s":"50 nm","E":2.756,"v":0.28},{"s":"50 nm","E":2.725,"v":0.27},{"s":"50 nm","E":2.696,"v":0.26},{"s":"50 nm","E":2.667,"v":0.25},{"s":"50 nm","E":2.638,"v":0.24},{"s":"50 nm","E":2.611,"v":0.23},{"s":"50 nm","E":2.583,"v":0.22},{"s":"50 nm","E":2.557,"v":0.21},{"s":"50 nm","E":2.531,"v":0.2},{"s":"50 nm","E":2.505,"v":0.19},{"s":"50 nm","E":2.480,"v":0.18},{"s":"50 nm","E":2.455,"v":0.17},{"s":"50 nm","E":2.431,"v":0.16},{"s":"50 nm","E":2.408,"v":0.15},{"s":"50 nm","E":2.385,"v":0.14},{"s":"50 nm","E":2.362,"v":0.13},{"s":"50 nm","E":2.340,"v":0.12},{"s":"50 nm","E":2.318,"v":0.11},
{"s":"100 nm","E":4.000,"v":14.3},{"s":"100 nm","E":3.937,"v":13.6},{"s":"100 nm","E":3.875,"v":13.0},{"s":"100 nm","E":3.815,"v":11.9},{"s":"100 nm","E":3.758,"v":10.9},{"s":"100 nm","E":3.701,"v":9.7},{"s":"100 nm","E":3.647,"v":8.5},{"s":"100 nm","E":3.594,"v":7.2},{"s":"100 nm","E":3.543,"v":6.1},{"s":"100 nm","E":3.493,"v":5.1},{"s":"100 nm","E":3.444,"v":4.1},{"s":"100 nm","E":3.397,"v":3.2},{"s":"100 nm","E":3.351,"v":2.5},{"s":"100 nm","E":3.307,"v":1.9},{"s":"100 nm","E":3.263,"v":1.55},{"s":"100 nm","E":3.221,"v":1.15},{"s":"100 nm","E":3.179,"v":0.8},{"s":"100 nm","E":3.139,"v":0.55},{"s":"100 nm","E":3.100,"v":0.4},{"s":"100 nm","E":3.062,"v":0.33},{"s":"100 nm","E":3.024,"v":0.3},{"s":"100 nm","E":2.988,"v":0.28},{"s":"100 nm","E":2.952,"v":0.27},{"s":"100 nm","E":2.918,"v":0.26},{"s":"100 nm","E":2.884,"v":0.25},{"s":"100 nm","E":2.851,"v":0.25},{"s":"100 nm","E":2.818,"v":0.24},{"s":"100 nm","E":2.787,"v":0.23},{"s":"100 nm","E":2.756,"v":0.22},{"s":"100 nm","E":2.725,"v":0.22},{"s":"100 nm","E":2.696,"v":0.21},{"s":"100 nm","E":2.667,"v":0.2},{"s":"100 nm","E":2.638,"v":0.2},{"s":"100 nm","E":2.611,"v":0.19},{"s":"100 nm","E":2.583,"v":0.18},{"s":"100 nm","E":2.557,"v":0.18},{"s":"100 nm","E":2.531,"v":0.17},{"s":"100 nm","E":2.505,"v":0.16},{"s":"100 nm","E":2.480,"v":0.16},{"s":"100 nm","E":2.455,"v":0.15},{"s":"100 nm","E":2.431,"v":0.15},{"s":"100 nm","E":2.408,"v":0.14},{"s":"100 nm","E":2.385,"v":0.14},{"s":"100 nm","E":2.362,"v":0.13},{"s":"100 nm","E":2.340,"v":0.13},{"s":"100 nm","E":2.318,"v":0.12}
],
"fit":[{"s":"50 nm","E":3.07,"v":0},{"s":"50 nm","E":3.887,"v":14.1},{"s":"100 nm","E":3.25,"v":0},{"s":"100 nm","E":3.887,"v":13.05},{"s":"150 nm","E":3.217,"v":0},{"s":"150 nm","E":3.887,"v":15.0},{"s":"200 nm","E":3.24,"v":0},{"s":"200 nm","E":3.79,"v":15.7},{"s":"400 nm","E":3.238,"v":0},{"s":"400 nm","E":3.734,"v":16.3}]
},
"spacing":51,
"resolve":{"scale":{"color":"independent","shape":"independent"},"legend":{"color":"independent","shape":"independent"}},
"vconcat":[
{
 "width":384,"height":302,
 "resolve":{"scale":{"color":"independent","shape":"independent"},"legend":{"color":"independent","shape":"independent"}},
 "layer":[
  {"data":{"name":"ana"},"mark":{"type":"rule","strokeDash":[3,2],"color":"#333333","strokeWidth":1},
   "encoding":{
    "x":{"field":"t","type":"quantitative","scale":{"domain":[20,80],"nice":false,"zero":false},"axis":{"title":"2θ (°)","values":[20,25,30,35,40,45,50,55,60,65,70,75,80],"tickCount":100,"labelExpr":"datum.value % 10 === 0 ? datum.label : ''","labelOverlap":false,"labelPadding":11,"titlePadding":9}},
    "y":{"datum":0,"type":"quantitative","scale":{"domain":[0,302],"nice":false},"axis":{"title":"Intensity (a.u.)","labels":false,"ticks":false,"titlePadding":13}},
    "y2":{"datum":221}}},
  {"data":{"name":"fto"},"mark":{"type":"rule","strokeDash":[1.5,1.5],"color":"#3333ff","strokeWidth":1},
   "encoding":{"x":{"field":"t","type":"quantitative"},"y":{"datum":0,"type":"quantitative"},"y2":{"datum":221}}},
  {"data":{"name":"xrd"},"mark":{"type":"line","strokeWidth":1.3},
   "encoding":{"x":{"field":"t","type":"quantitative"},"y":{"field":"I","type":"quantitative"},
    "color":{"field":"s","type":"nominal","scale":{"domain":["50 nm","100 nm","150 nm","200 nm","400 nm"],"range":["#000000","#ff0000","#0000ff","#ff00ff","#1b8a1b"]},"legend":null}}},
  {"data":{"name":"xmk"},"mark":{"type":"point","filled":false,"strokeWidth":1.5,"size":70,"opacity":1},
   "encoding":{"x":{"field":"t","type":"quantitative"},"y":{"field":"I","type":"quantitative"},
    "shape":{"field":"type","type":"nominal","scale":{"domain":["Anatase","FTO"],"range":["circle","square"]},"legend":{"title":null,"orient":"top-right","direction":"horizontal","offset":5,"padding":0,"labelFont":"Lato","labelFontWeight":"bold","labelFontSize":12.5,"labelOffset":1,"columnPadding":5,"symbolSize":64,"symbolStrokeWidth":1.5}},
    "color":{"field":"type","type":"nominal","scale":{"domain":["Anatase","FTO"],"range":["#ff2020","#2020ff"]},"legend":{"title":null,"orient":"top-right","direction":"horizontal","offset":5,"padding":0,"labelFont":"Lato","labelFontWeight":"bold","labelFontSize":12.5,"labelOffset":1,"columnPadding":5,"symbolSize":64,"symbolStrokeWidth":1.5}}}},
  {"data":{"name":"xsm"},"mark":{"type":"point","filled":false,"strokeWidth":1.3,"size":28,"color":"#ff2020","shape":"circle","opacity":1},
   "encoding":{"x":{"field":"t","type":"quantitative"},"y":{"field":"I","type":"quantitative"}}},
  {"data":{"name":"elab"},"mark":{"type":"text","align":"right","baseline":"middle","font":"Lato","fontWeight":"bold","fontSize":13},
   "encoding":{"x":{"field":"t","type":"quantitative"},"y":{"field":"I","type":"quantitative"},"text":{"field":"s"},
    "color":{"field":"s","type":"nominal","scale":{"domain":["50 nm","100 nm","150 nm","200 nm","400 nm"],"range":["#000000","#ff0000","#0000ff","#ff00ff","#1b8a1b"]},"legend":null}}},
  {"data":{"values":[{}]},"mark":{"type":"text","font":"Liberation Serif","fontWeight":"bold","fontSize":17,"align":"center","baseline":"middle","color":"#000000"},
   "encoding":{"x":{"datum":15.6,"type":"quantitative"},"y":{"datum":293,"type":"quantitative"},"text":{"value":"(e)"}}}
 ]
},
{
 "spacing":2,
 "resolve":{"scale":{"color":"independent","shape":"independent"},"legend":{"color":"independent","shape":"independent"}},
 "hconcat":[
  {
   "width":291,"height":232,
   "layer":[
    {"data":{"name":"ipce"},"mark":{"type":"line","strokeWidth":1.2},
     "encoding":{
      "x":{"field":"w","type":"quantitative","scale":{"domain":[300,600],"nice":false,"zero":false},"axis":{"title":"Wavelength (nm)","values":[300,325,350,375,400,425,450,475,500,525,550,575,600],"tickCount":100,"labelExpr":"datum.value % 50 === 0 ? datum.label : ''","labelOverlap":false,"labelPadding":11,"titlePadding":4}},
      "y":{"field":"v","type":"quantitative","scale":{"domain":[0,80],"nice":false},"axis":{"title":"IPCE (%)","values":[0,10,20,30,40,50,60,70,80],"tickCount":100,"labelExpr":"datum.value % 20 === 0 ? datum.label : ''","labelOverlap":false,"labelPadding":9,"titlePadding":3}},
      "color":{"field":"s","type":"nominal","scale":{"domain":["50 nm","100 nm","150 nm","200 nm","400 nm"],"range":["#000000","#ff0000","#0000ff","#ff00ff","#1b8a1b"]}}}},
    {"data":{"name":"ipce"},"mark":{"type":"point","filled":true,"size":22,"opacity":1},
     "encoding":{
      "x":{"field":"w","type":"quantitative"},
      "y":{"field":"v","type":"quantitative"},
      "color":{"field":"s","type":"nominal","scale":{"domain":["50 nm","100 nm","150 nm","200 nm","400 nm"],"range":["#000000","#ff0000","#0000ff","#ff00ff","#1b8a1b"]},
        "legend":{"title":null,"orient":"top-right","offset":0,"padding":3.5,"strokeColor":"#333333","labelFont":"Liberation Sans","labelFontSize":13,"labelFontWeight":"normal","rowPadding":2,"symbolSize":36,"symbolOffset":12,"labelOffset":13,
          "encode":{"symbols":{
            "shape":{"value":{"expr":"datum.value === '50 nm' ? 'M-5,0H5M-1,-0.9H1L0,0.9Z' : datum.value === '100 nm' ? 'M-5,0H5M0,-0.9L1,0.9H-1Z' : datum.value === '400 nm' ? 'M-5,0H5M-0.85,-0.85H0.85V0.85H-0.85Z' : 'M-5,0H5M0.9,0A0.9,0.9,0,1,1,-0.9,0A0.9,0.9,0,1,1,0.9,0Z'"}},
            "stroke":{"value":{"expr":"datum.value === '50 nm' ? '#000000' : datum.value === '100 nm' ? '#ff0000' : datum.value === '150 nm' ? '#0000ff' : datum.value === '200 nm' ? '#ff00ff' : '#1b8a1b'"}},
            "strokeWidth":{"value":1.2},
            "size":{"value":36}}}}},
      "shape":{"field":"s","type":"nominal","scale":{"domain":["400 nm","200 nm","150 nm","100 nm","50 nm"],"range":["square","circle","circle","triangle-up","triangle-down"]},"legend":null}}},
    {"data":{"name":"pct"},"mark":{"type":"text","align":"right","baseline":"middle","font":"Open Sans","fontWeight":"bold","fontSize":11.5},
     "encoding":{"x":{"field":"w","type":"quantitative"},"y":{"field":"v","type":"quantitative"},"text":{"field":"p"},
      "color":{"field":"s","type":"nominal","scale":{"domain":["50 nm","100 nm","150 nm","200 nm","400 nm"],"range":["#000000","#ff0000","#0000ff","#ff00ff","#1b8a1b"]}}}},
    {"data":{"values":[{}]},"mark":{"type":"text","font":"Liberation Serif","fontWeight":"bold","fontSize":17,"align":"center","baseline":"middle","color":"#000000"},
     "encoding":{"x":{"datum":452.6,"type":"quantitative"},"y":{"datum":73.9,"type":"quantitative"},"text":{"value":"(f)"}}}
   ]
  },
  {
   "width":290,"height":232,
   "layer":[
    {"data":{"name":"tauc"},"mark":{"type":"point","filled":true,"size":24,"opacity":1},
     "encoding":{
      "x":{"field":"E","type":"quantitative","scale":{"domain":[2.3,4.0],"nice":false,"zero":false},"axis":{"title":"Energy (eV)","format":".1f","values":[2.4,2.5,2.6,2.7,2.8,2.9,3.0,3.1,3.2,3.3,3.4,3.5,3.6,3.7,3.8,3.9,4.0],"tickCount":100,"labelExpr":"(datum.label === '2.4' || datum.label === '2.6' || datum.label === '2.8' || datum.label === '3.0' || datum.label === '3.2' || datum.label === '3.4' || datum.label === '3.6' || datum.label === '3.8' || datum.label === '4.0') ? datum.label : ''","labelOverlap":false,"labelPadding":11,"titlePadding":4}},
      "y":{"field":"v","type":"quantitative","scale":{"domain":[0,20],"nice":false},"axis":{"title":"(IPCE hv)¹ᐟ²","values":[0,2.5,5,7.5,10,12.5,15,17.5,20],"tickCount":100,"labelExpr":"datum.value % 5 === 0 ? datum.label : ''","labelOverlap":false,"labelPadding":12,"titlePadding":1}},
      "color":{"field":"s","type":"nominal","scale":{"domain":["50 nm","100 nm","150 nm","200 nm","400 nm"],"range":["#000000","#ff0000","#0000ff","#ff00ff","#1b8a1b"]},
        "legend":{"title":null,"orient":"top-left","offset":0,"padding":3.5,"strokeColor":"#333333","labelFont":"Liberation Sans","labelFontSize":13,"labelFontWeight":"normal","rowPadding":2,"symbolSize":30,"symbolOffset":10,"labelOffset":12}},
      "shape":{"field":"s","type":"nominal","scale":{"domain":["50 nm","100 nm","150 nm","200 nm","400 nm"],"range":["triangle-down","triangle-up","circle","circle","square"]},
        "legend":{"title":null,"orient":"top-left","offset":0,"padding":3.5,"strokeColor":"#333333","labelFont":"Liberation Sans","labelFontSize":13,"labelFontWeight":"normal","rowPadding":2,"symbolSize":30,"symbolOffset":10,"labelOffset":12}}}},
    {"data":{"name":"fit"},"mark":{"type":"line","strokeWidth":1.3},
     "encoding":{"x":{"field":"E","type":"quantitative"},"y":{"field":"v","type":"quantitative"},
      "color":{"field":"s","type":"nominal","scale":{"domain":["50 nm","100 nm","150 nm","200 nm","400 nm"],"range":["#000000","#ff0000","#0000ff","#ff00ff","#1b8a1b"]}}}},
    {"data":{"values":[{}]},"mark":{"type":"text","font":"Liberation Serif","fontWeight":"bold","fontSize":17,"align":"center","baseline":"middle","color":"#000000"},
     "encoding":{"x":{"datum":3.672,"type":"quantitative"},"y":{"datum":18.4,"type":"quantitative"},"text":{"value":"(g)"}}}
   ]
  }
 ]
}
]
}
